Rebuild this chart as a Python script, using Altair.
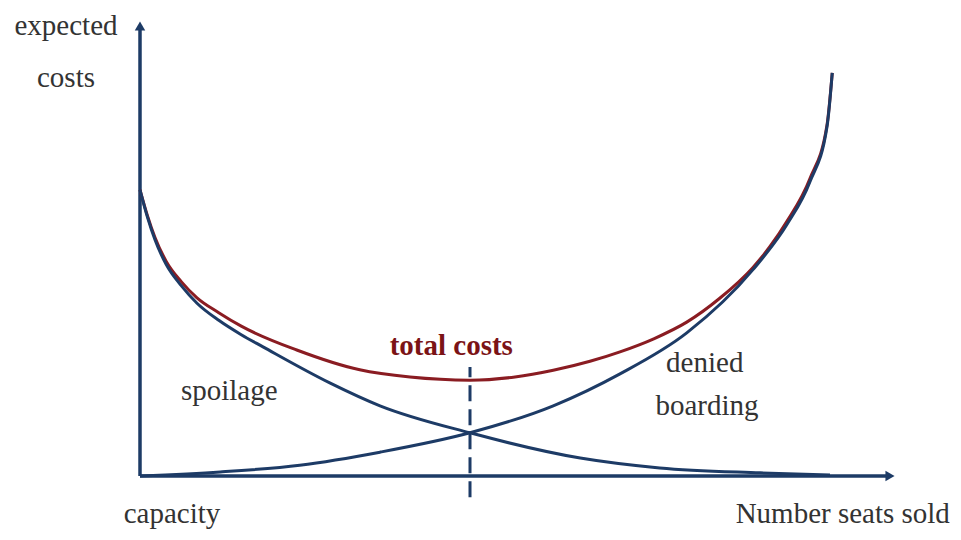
import altair as alt
import pandas as pd

# ---- data (abstract units: x = seats sold relative to capacity, y = expected cost) ----
spoil_x = [0, 1, 2, 3.5, 5.5, 7.6, 10.5, 13.5, 16.4, 25.3, 32, 44, 58.7, 69.3, 82.7, 92]
spoil_y = [63.6, 57.5, 52.5, 47, 42.3, 38.4, 34.6, 31.4, 28.7, 20.7, 15.6, 9.6, 4, 1.8, 0.7, 0.2]

denied_x = [0, 10.7, 21.3, 32, 44, 55.1, 64, 72.9, 81.7, 86.3, 89.3, 91.6, 92.3]
denied_y = [0, 0.9, 2.4, 5.3, 9.6, 15.6, 22.7, 31.8, 45.8, 56, 65.3, 77.6, 89.6]

total_x = [0, 1, 2, 3.5, 5.5, 7.6, 10.5, 13.5, 20.9, 29.3, 36, 44, 50, 55.1, 60, 64,
           68.5, 72.9, 77.3, 81.7, 84, 86.3, 89.3, 91.6, 92.3]
total_y = [63.6, 57.8, 53, 47.7, 43.2, 39.6, 36.3, 33.3, 28, 23.6, 22, 21.3, 22, 23.5, 25.5, 27.6,
           30.5, 34.2, 39.5, 46.3, 51, 56.7, 66, 78, 89.6]

optimum_x = [44]
optimum_y = [-4.7, 24.2]

axis_end = [100]

label_text = ["expected", "costs", "capacity", "Number seats sold", "spoilage", "denied", "boarding"]
label_x = [-9.87, -9.87, 4.27, 93.7, 11.9, 75.3, 75.6]
label_y = [98.0, 86.4, -10.5, -10.5, 16.9, 23.1, 13.6]

total_label = ["total costs"]
total_label_x = [41.5]
total_label_y = [26.9]

NAVY = "#1d3b66"
RED = "#8a1c22"
TEXT = "#333333"
FONT = "Liberation Serif"

xs = alt.Scale(domain=[-17.6, 108.4], nice=False, zero=False)
ys = alt.Scale(domain=[-12.44, 104], nice=False, zero=False)


def curve(xv, yv, color):
    df = pd.DataFrame({"x": xv, "y": yv, "o": list(range(len(xv)))})
    return alt.Chart(df).mark_line(
        interpolate="monotone", strokeWidth=3, color=color
    ).encode(
        x=alt.X("x:Q", scale=xs, axis=None),
        y=alt.Y("y:Q", scale=ys, axis=None),
        order="o:Q",
    )


total = curve(total_x, total_y, RED)
spoil = curve(spoil_x, spoil_y, NAVY)
denied = curve(denied_x, denied_y, NAVY)

axes_df = pd.DataFrame({
    "x": [0, 0], "x2": [0, axis_end[0]],
    "y": [0, 0], "y2": [axis_end[0], 0],
})
axes = alt.Chart(axes_df).mark_rule(strokeWidth=3.5, color=NAVY).encode(
    x=alt.X("x:Q", scale=xs, axis=None), x2="x2:Q",
    y=alt.Y("y:Q", scale=ys, axis=None), y2="y2:Q",
)

arrow_up = alt.Chart(pd.DataFrame({"x": [0], "y": [axis_end[0]]})).mark_point(
    shape="triangle-up", filled=True, size=110, color=NAVY, opacity=1
).encode(x=alt.X("x:Q", scale=xs, axis=None), y=alt.Y("y:Q", scale=ys, axis=None))

arrow_right = alt.Chart(pd.DataFrame({"x": [axis_end[0]], "y": [0]})).mark_point(
    shape="triangle-right", filled=True, size=110, color=NAVY, opacity=1
).encode(x=alt.X("x:Q", scale=xs, axis=None), y=alt.Y("y:Q", scale=ys, axis=None))

dash_df = pd.DataFrame({"x": optimum_x, "y": [optimum_y[0]], "y2": [optimum_y[1]]})
dash = alt.Chart(dash_df).mark_rule(strokeWidth=3, color=NAVY, strokeDash=[16, 8]).encode(
    x=alt.X("x:Q", scale=xs, axis=None),
    y=alt.Y("y:Q", scale=ys, axis=None), y2="y2:Q",
)

labels = alt.Chart(pd.DataFrame({"t": label_text, "x": label_x, "y": label_y})).mark_text(
    font=FONT, fontSize=29, color=TEXT, align="center", baseline="alphabetic"
).encode(
    x=alt.X("x:Q", scale=xs, axis=None),
    y=alt.Y("y:Q", scale=ys, axis=None),
    text="t:N",
)

tlabel = alt.Chart(pd.DataFrame({"t": total_label, "x": total_label_x, "y": total_label_y})).mark_text(
    font=FONT, fontSize=29, fontWeight="bold", color="#7b1316", align="center", baseline="alphabetic"
).encode(
    x=alt.X("x:Q", scale=xs, axis=None),
    y=alt.Y("y:Q", scale=ys, axis=None),
    text="t:N",
)

chart = alt.layer(
    axes, arrow_up, arrow_right, dash, total, spoil, denied, labels, tlabel
).properties(
    width=945, height=524, padding=0, autosize=alt.AutoSizeParams(type="none"),
    background="white",
).configure_view(stroke=None)

chart.save("out.html", embed_options={"renderer": "svg", "actions": False})
